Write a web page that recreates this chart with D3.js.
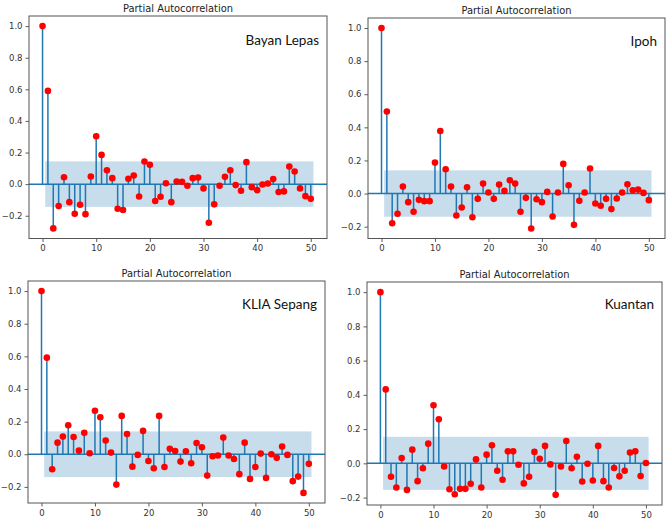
<!DOCTYPE html>
<html>
<head>
<meta charset="utf-8">
<script src="https://cdn.jsdelivr.net/npm/d3@7"></script>
<style>
  html, body { margin: 0; padding: 0; background: #fff; }
  svg { display: block; }
</style>
</head>
<body>
<svg id="chart" width="669" height="519"></svg>
<script>
// ---- Data ----
const lags = d3.range(0, 51);
const stations = ["Bayan Lepas", "Ipoh", "KLIA Sepang", "Kuantan"];
const bayanLepas = [1.0, 0.59, -0.28, -0.139, 0.044, -0.114, -0.187, -0.13, -0.19, 0.048,
  0.303, 0.185, 0.088, 0.038, -0.156, -0.164, 0.034, 0.055, -0.078, 0.143,
  0.122, -0.107, -0.08, 0.006, -0.114, 0.017, 0.015, -0.01, 0.038, 0.042,
  -0.027, -0.244, -0.128, -0.01, 0.046, 0.088, -0.006, -0.042, 0.139, -0.019,
  -0.038, -0.002, 0.004, 0.032, -0.05, -0.046, 0.112, 0.08, -0.027, -0.076, -0.093];
const ipoh = [1.0, 0.496, -0.179, -0.122, 0.042, -0.052, -0.11, -0.038, -0.046, -0.046,
  0.187, 0.378, 0.147, 0.042, -0.133, -0.084, 0.038, -0.143, -0.032, 0.06,
  0.006, -0.032, 0.054, 0.016, 0.08, 0.06, -0.11, -0.026, -0.211, -0.034,
  -0.052, 0.01, -0.139, 0.006, 0.179, 0.05, -0.189, -0.044, 0.006, 0.151,
  -0.06, -0.074, -0.032, -0.094, -0.03, 0.006, 0.056, 0.02, 0.024, 0.004, -0.04];
const kliaSepang = [1.0, 0.592, -0.092, 0.071, 0.108, 0.178, 0.106, 0.022, 0.131, 0.006,
  0.267, 0.227, 0.084, 0.01, -0.186, 0.235, 0.124, -0.076, -0.004, 0.143,
  -0.041, -0.086, 0.235, -0.078, 0.033, 0.02, -0.045, 0.018, -0.055, 0.069,
  0.043, -0.131, -0.012, -0.008, 0.102, -0.008, -0.029, -0.122, 0.071, -0.151,
  -0.078, 0.004, -0.145, 0.0, -0.022, 0.047, -0.004, -0.165, -0.137, -0.237, -0.059];
const kuantan = [1.0, 0.432, -0.078, -0.141, 0.031, -0.155, 0.08, -0.104, -0.029, 0.115,
  0.339, 0.258, -0.018, -0.151, -0.18, -0.149, -0.149, -0.119, 0.023, -0.141,
  0.051, 0.106, -0.043, -0.096, 0.07, 0.07, -0.008, -0.117, -0.078, 0.067,
  0.027, 0.102, -0.006, -0.184, -0.018, 0.131, -0.029, 0.039, -0.106, -0.002,
  -0.1, 0.102, -0.104, -0.141, -0.027, -0.076, -0.043, 0.063, 0.07, -0.074, 0.002];
const confBand = [0.144, 0.14, 0.14, 0.155];   // half-width of 95% band per station
const xTicks = [0, 10, 20, 30, 40, 50];
const yTicks = [-0.2, 0.0, 0.2, 0.4, 0.6, 0.8, 1.0];
const titleText = "Partial Autocorrelation";

// ---- Layout (axes boxes) ----
const panels = [
  { values: bayanLepas, band: confBand[0], name: stations[0], box: { l: 29, r: 327, t: 16, b: 238.5 }, ly: 29 },
  { values: ipoh,       band: confBand[1], name: stations[1], box: { l: 368, r: 665, t: 18, b: 238.5 }, ly: 28 },
  { values: kliaSepang, band: confBand[2], name: stations[2], box: { l: 28, r: 325, t: 281, b: 503 }, ly: 28 },
  { values: kuantan,    band: confBand[3], name: stations[3], box: { l: 367, r: 662, t: 282, b: 505 }, ly: 27 }
];

const svg = d3.select("#chart");
const blue = "#1f77b4";
const fmt = d3.format(".1f");

panels.forEach(p => {
  const { l, r, t, b } = p.box;
  const xmin = 0, xmax = 50.5;
  const xm = (xmax - xmin) * 0.05;
  const ymin = d3.min(p.values), ymax = d3.max(p.values);
  const ym = (ymax - ymin) * 0.05;
  const x = d3.scaleLinear().domain([xmin - xm, xmax + xm]).range([l, r]);
  const y = d3.scaleLinear().domain([ymin - ym, ymax + ym]).range([b, t]);

  const g = svg.append("g");
  const clipId = "clip" + l + "_" + t;
  g.append("clipPath").attr("id", clipId)
    .append("rect").attr("x", l).attr("y", t).attr("width", r - l).attr("height", b - t);
  const plot = g.append("g").attr("clip-path", `url(#${clipId})`);

  // confidence band
  plot.append("rect")
    .attr("x", x(0.5)).attr("width", x(50.5) - x(0.5))
    .attr("y", y(p.band)).attr("height", y(-p.band) - y(p.band))
    .attr("fill", blue).attr("fill-opacity", 0.25);

  // zero line
  plot.append("line")
    .attr("x1", l).attr("x2", r).attr("y1", y(0)).attr("y2", y(0))
    .attr("stroke", blue).attr("stroke-width", 1.5);

  // stems
  plot.selectAll("line.stem").data(lags).join("line").attr("class", "stem")
    .attr("x1", d => x(d)).attr("x2", d => x(d))
    .attr("y1", y(0)).attr("y2", d => y(p.values[d]))
    .attr("stroke", blue).attr("stroke-width", 1.5);

  // markers
  plot.selectAll("circle").data(lags).join("circle")
    .attr("cx", d => x(d)).attr("cy", d => y(p.values[d]))
    .attr("r", 3.3).attr("fill", "#ff0000");

  // axes
  const xAxis = d3.axisBottom(x).tickValues(xTicks).tickSize(3.5).tickPadding(3).tickFormat(d3.format("d"));
  const yAxis = d3.axisLeft(y).tickValues(yTicks).tickSize(3.5).tickPadding(3).tickFormat(fmt);
  const gx = g.append("g").attr("transform", `translate(0,${b})`).call(xAxis);
  const gy = g.append("g").attr("transform", `translate(${l},0)`).call(yAxis);
  [gx, gy].forEach(a => {
    a.select(".domain").remove();
    a.selectAll("line").attr("stroke", "#333").attr("stroke-width", 0.8);
    a.selectAll("text").attr("fill", "#333").style("font-family", "DejaVu Sans").style("font-size", "8.5px");
  });

  // frame
  g.append("rect").attr("x", l).attr("y", t).attr("width", r - l).attr("height", b - t)
    .attr("fill", "none").attr("stroke", "#555").attr("stroke-width", 1);

  // title
  g.append("text").attr("x", (l + r) / 2).attr("y", t - 4.5)
    .attr("text-anchor", "middle").attr("fill", "#222")
    .attr("textLength", 110).attr("lengthAdjust", "spacingAndGlyphs")
    .style("font-family", "DejaVu Sans").style("font-size", "10.5px")
    .text(titleText);

  // station label
  g.append("text").attr("x", r - 8).attr("y", t + p.ly)
    .attr("text-anchor", "end").attr("fill", "#111")
    .style("font-family", "Lato").style("font-size", "13.5px")
    .text(p.name);
});
</script>
</body>
</html>
